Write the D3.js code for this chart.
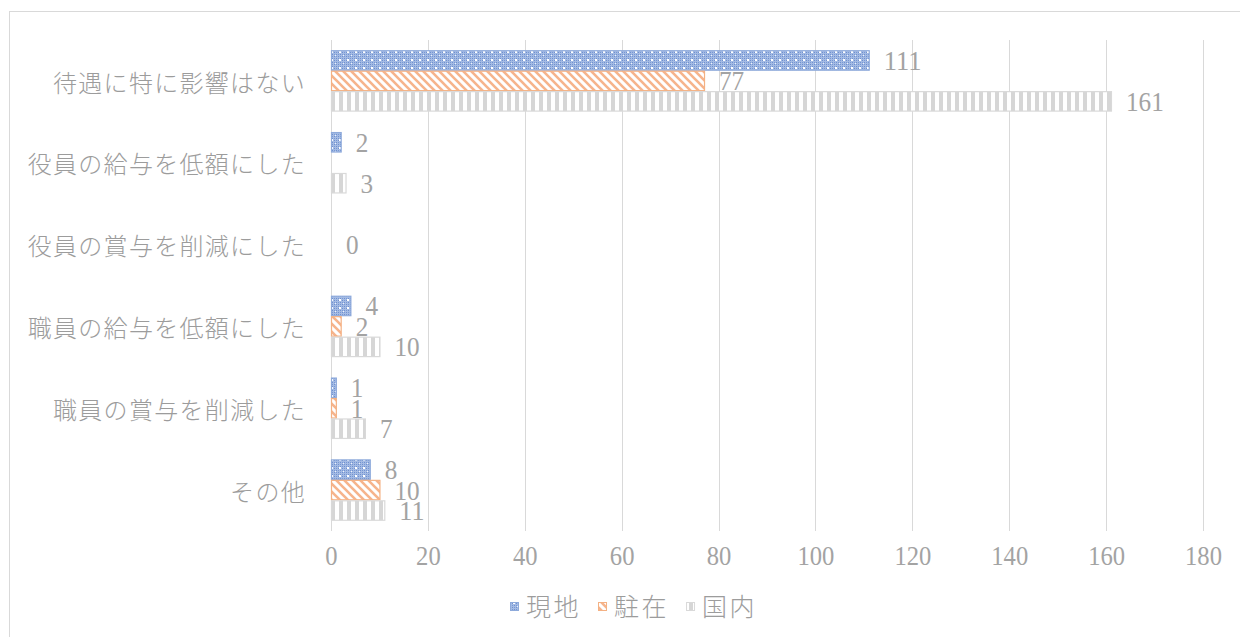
<!DOCTYPE html>
<html>
<head>
<meta charset="utf-8">
<script src="https://cdn.jsdelivr.net/npm/d3@7"></script>
<style>
  html, body { margin: 0; padding: 0; background: #fff; }
  svg { display: block; }
</style>
</head>
<body>
<svg id="chart" width="1240" height="637"></svg>
<script>
// Survey answers: effect on pay and bonuses
const categories = [
  "待遇に特に影響はない",
  "役員の給与を低額にした",
  "役員の賞与を削減にした",
  "職員の給与を低額にした",
  "職員の賞与を削減した",
  "その他"
];
const seriesNames = ["現地", "駐在", "国内"];
const genchi = [111, 2, null, 4, 1, 8];
const chuzai = [77, null, 0, 2, 1, 10];
const kokunai = [161, 3, null, 10, 7, 11];
const xTicks = [0, 20, 40, 60, 80, 100, 120, 140, 160, 180];

const seriesValues = [genchi, chuzai, kokunai];
const seriesStyle = [
  { fill: "url(#pat-genchi)", stroke: "#8eaadb" },
  { fill: "url(#pat-chuzai)", stroke: "#f4b183" },
  { fill: "url(#pat-kokunai)", stroke: "#d9d9d9" }
];

const svg = d3.select("#chart");
const W = 1240, H = 637;
const plot = { left: 331, right: 1203, top: 40, bottom: 531 };

const serif = "'Liberation Serif', 'Times New Roman', serif";
const cjk = "'Noto Sans CJK JP', 'Noto Sans', sans-serif";
const textColor = "#9c9c9c";
const numColor = "#a3a3a3";

// ---- fill patterns ----
const defs = svg.append("defs");

// blue: dotted grid
const pb = defs.append("pattern").attr("id", "pat-genchi")
  .attr("patternUnits", "userSpaceOnUse").attr("width", 8).attr("height", 8);
pb.append("rect").attr("width", 8).attr("height", 8).attr("fill", "#a4bbe4");
for (let i = 0; i < 8; i += 2) {
  for (let j = 0; j < 8; j += 2) {
    pb.append("rect").attr("x", i).attr("y", j).attr("width", 1).attr("height", 1)
      .attr("fill", (i + j) % 4 === 0 ? "#7898d3" : "#6f90cf");
  }
}
pb.append("rect").attr("x", 3).attr("y", 3).attr("width", 2).attr("height", 2).attr("fill", "#ffffff");
pb.append("rect").attr("x", 7).attr("y", 7).attr("width", 1).attr("height", 1).attr("fill", "#eef2fb");

// orange: wide downward diagonal
const po = defs.append("pattern").attr("id", "pat-chuzai")
  .attr("patternUnits", "userSpaceOnUse").attr("width", 8).attr("height", 8);
po.append("rect").attr("width", 8).attr("height", 8).attr("fill", "#ffffff");
po.append("path").attr("d", "M-2,-2 L10,10 M-2,6 L2,10 M6,-2 L10,2")
  .attr("stroke", "#f6b48c").attr("stroke-width", 2.6);

// grey: wide vertical
const pg = defs.append("pattern").attr("id", "pat-kokunai")
  .attr("patternUnits", "userSpaceOnUse").attr("width", 8).attr("height", 8);
pg.append("rect").attr("width", 8).attr("height", 8).attr("fill", "#ffffff");
pg.append("rect").attr("x", 3).attr("width", 4).attr("height", 8).attr("fill", "#d6d6d6");

// ---- chart frame ----
svg.append("rect").attr("x", 9.5).attr("y", 11.5).attr("width", W + 10).attr("height", H + 10)
  .attr("fill", "none").attr("stroke", "#d9d9d9").attr("stroke-width", 1);

// ---- scales ----
const x = d3.scaleLinear().domain([0, 180]).range([plot.left, plot.right]);
const y = d3.scaleBand().domain(categories).range([plot.top, plot.bottom]).padding(0);
const ySub = d3.scaleBand().domain(d3.range(seriesNames.length))
  .range([0, y.bandwidth()]).paddingInner(0).paddingOuter(0.5);

// ---- gridlines ----
svg.append("g").selectAll("line").data(xTicks).join("line")
  .attr("x1", d => Math.round(x(d)) + 0.5).attr("x2", d => Math.round(x(d)) + 0.5)
  .attr("y1", plot.top).attr("y2", plot.bottom)
  .attr("stroke", "#d9d9d9").attr("stroke-width", 1);

// ---- x axis labels ----
const xAxis = d3.axisBottom(x).tickValues(xTicks).tickSize(0).tickPadding(0);
const gx = svg.append("g").attr("transform", `translate(0,${plot.bottom})`).call(xAxis);
gx.select(".domain").remove();
gx.selectAll("text")
  .attr("y", 34).attr("dy", 0)
  .attr("font-family", serif).attr("font-size", 27).attr("fill", numColor)
  .attr("textLength", d => String(d).length * 12.3)
  .attr("lengthAdjust", "spacingAndGlyphs");

// ---- y axis labels ----
const yAxis = d3.axisLeft(y).tickSize(0).tickPadding(0);
const gy = svg.append("g").attr("transform", `translate(306,0)`).call(yAxis);
gy.select(".domain").remove();
gy.selectAll("text")
  .attr("x", 0).attr("dy", "0.36em").attr("y", 2)
  .attr("font-family", cjk).attr("font-weight", 300).attr("font-size", 24)
  .attr("letter-spacing", 1.3)
  .attr("fill", textColor);

// ---- bars and value labels ----
const rows = [];
seriesValues.forEach((vals, s) => {
  vals.forEach((v, i) => {
    if (v !== null) rows.push({ s, cat: categories[i], v });
  });
});

svg.append("g").selectAll("rect").data(rows.filter(d => d.v > 0)).join("rect")
  .attr("x", x(0) + 0.5)
  .attr("y", d => y(d.cat) + ySub(d.s) + 0.5)
  .attr("width", d => x(d.v) - x(0))
  .attr("height", ySub.bandwidth() - 1)
  .attr("fill", d => seriesStyle[d.s].fill)
  .attr("stroke", d => seriesStyle[d.s].stroke)
  .attr("stroke-width", 1.2);

svg.append("g").selectAll("text").data(rows).join("text")
  .attr("x", d => x(d.v) + 15)
  .attr("y", d => y(d.cat) + ySub(d.s) + ySub.bandwidth() / 2)
  .attr("dy", "0.34em")
  .attr("font-family", serif).attr("font-size", 28).attr("fill", numColor)
  .attr("textLength", d => String(d.v).length * 12.6)
  .attr("lengthAdjust", "spacingAndGlyphs")
  .text(d => d.v);

// ---- legend ----
const legend = svg.append("g").attr("transform", "translate(510,607)");
let lx = 0;
seriesNames.forEach((name, s) => {
  const g = legend.append("g").attr("transform", `translate(${lx},0)`);
  g.append("rect").attr("x", 0.5).attr("y", -4.5).attr("width", 8).attr("height", 8)
    .attr("fill", seriesStyle[s].fill).attr("stroke", seriesStyle[s].stroke);
  const t = g.append("text").attr("x", 16).attr("y", 0).attr("dy", "0.36em")
    .attr("font-family", cjk).attr("font-weight", 300).attr("font-size", 25)
    .attr("letter-spacing", 2.5).attr("fill", textColor).text(name);
  lx += 16 + t.node().getComputedTextLength() + 17;
});
</script>
</body>
</html>
